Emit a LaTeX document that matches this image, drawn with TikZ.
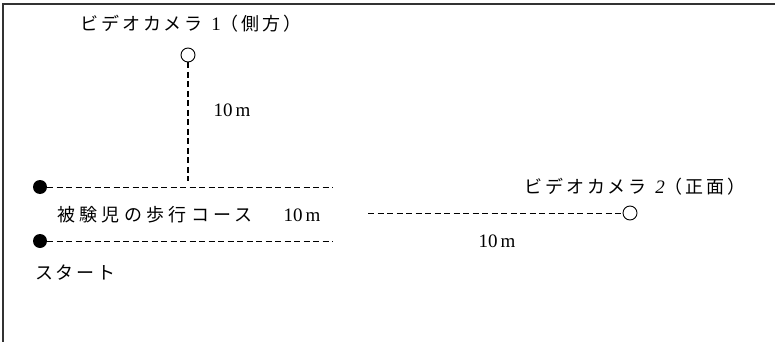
\documentclass[tikz,border=0pt]{standalone}
\usepackage{fontspec}
\setmainfont{Liberation Serif}
\newfontfamily\jp[LetterSpace=15]{Noto Sans CJK JP}
\newfontfamily\jpw[LetterSpace=24]{Noto Sans CJK JP}
\begin{document}
\begin{tikzpicture}[x=1pt,y=-1pt,
  txt/.style={inner sep=0pt,font=\fontsize{18}{20}\selectfont},
  num/.style={inner sep=0pt,font=\fontsize{19}{21}\selectfont},
  cam/.style={circle,draw,line width=0.9pt,minimum size=14pt,inner sep=0pt,fill=white},
  dot/.style={circle,fill=black,minimum size=14pt,inner sep=0pt},
  dashv/.style={line width=1.3pt,dash pattern=on 6pt off 3.5pt},
  dashh/.style={line width=0.9pt,dash pattern=on 6pt off 3.5pt}]
\useasboundingbox (0,0) rectangle (775,342);
% frame
\draw[line width=1.1pt,black!80] (775,4) -- (3,4) -- (3,342);
% camera 1
\node[txt] (cam1lbl) at (191,24) {\jp ビデオカメラ\hspace{9pt}{\rmfamily\fontsize{19}{21}\selectfont 1}（側方）};
\node[cam] (cam1) at (188,55) {};
\coordinate (cam1end) at (188,181);
\draw[dashv] (cam1.south) -- (cam1end);
\node[num] (d1) at (232,110) {10\,m};
% course
\node[dot] (dot1) at (40,187) {};
\node[dot] (dot2) at (40,241) {};
\coordinate (e1) at (333,187);
\coordinate (e2) at (333,241);
\draw[dashh] (dot1.east) -- (e1);
\draw[dashh] (dot2.east) -- (e2);
\node[txt,anchor=west] (course) at (57,215) {\jpw 被験児の歩行コース};
\node[num] (d2) at (302,215) {10\,m};
\node[txt,anchor=west] (start) at (35,273) {\jp スタート};
% camera 2
\node[cam] (cam2) at (630,213) {};
\coordinate (s2) at (368,213);
\draw[dashh] (s2) -- (cam2.west);
\node[txt] (cam2lbl) at (635,187) {\jp ビデオカメラ\hspace{9pt}{\rmfamily\itshape\fontsize{19}{21}\selectfont 2}（正面）};
\node[num] (d3) at (497,241) {10\,m};
\end{tikzpicture}
\end{document}
